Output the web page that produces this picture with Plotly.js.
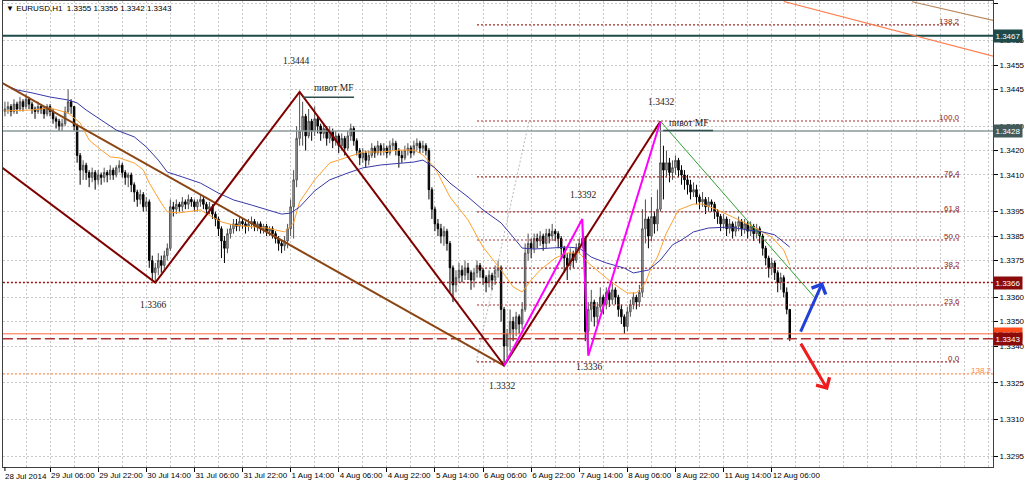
<!DOCTYPE html>
<html><head><meta charset="utf-8">
<script src="https://cdn.plot.ly/plotly-3.0.1.min.js"></script>
<style>html,body{margin:0;padding:0;background:#fff;}#chart{width:1024px;height:482px;}</style>
</head><body><div id="chart"></div>
<script>
// ---------- DATA ----------
const symbolTitle = "▼ EURUSD,H1  1.3355 1.3355 1.3342 1.3343";
const firstOpen = 1.3436;
const closePrices = [
1.3437,1.3438,1.3436,1.3439,1.3437,1.3440,1.3438,1.3441,1.3439,1.3437,
1.3436,1.3438,1.3437,1.3435,1.3438,1.3436,1.3433,1.3432,1.3430,1.3431,
1.3436,1.3440,1.3438,1.3430,1.3418,1.3412,1.3414,1.3411,1.3409,1.3411,
1.3408,1.3410,1.3409,1.3411,1.3410,1.3412,1.3410,1.3413,1.3414,1.3411,
1.3409,1.3410,1.3406,1.3403,1.3400,1.3402,1.3397,1.3399,1.3375,1.3370,
1.3372,1.3375,1.3373,1.3377,1.3380,1.3397,1.3396,1.3398,1.3397,1.3399,
1.3398,1.3400,1.3399,1.3397,1.3399,1.3400,1.3398,1.3396,1.3397,1.3394,
1.3392,1.3388,1.3383,1.3380,1.3386,1.3388,1.3390,1.3389,1.3391,1.3390,
1.3389,1.3390,1.3391,1.3389,1.3390,1.3388,1.3389,1.3387,1.3388,1.3386,
1.3384,1.3382,1.3381,1.3383,1.3388,1.3397,1.3408,1.3425,1.3428,1.3434,
1.3426,1.3432,1.3428,1.3433,1.3430,1.3427,1.3429,1.3425,1.3428,1.3424,
1.3426,1.3422,1.3425,1.3421,1.3426,1.3429,1.3424,1.3420,1.3417,1.3419,
1.3416,1.3418,1.3421,1.3419,1.3422,1.3420,1.3421,1.3419,1.3422,1.3423,
1.3420,1.3418,1.3417,1.3420,1.3421,1.3419,1.3422,1.3423,1.3421,1.3422,
1.3420,1.3404,1.3396,1.3390,1.3388,1.3385,1.3387,1.3382,1.3372,1.3365,
1.3368,1.3371,1.3369,1.3372,1.3370,1.3367,1.3370,1.3373,1.3371,1.3368,
1.3366,1.3369,1.3367,1.3371,1.3372,1.3355,1.3340,1.3345,1.3350,1.3347,
1.3352,1.3349,1.3355,1.3378,1.3382,1.3380,1.3384,1.3383,1.3385,1.3382,
1.3386,1.3385,1.3387,1.3386,1.3384,1.3380,1.3376,1.3373,1.3378,1.3375,
1.3380,1.3382,1.3384,1.3346,1.3355,1.3358,1.3352,1.3356,1.3360,1.3357,
1.3362,1.3359,1.3363,1.3360,1.3355,1.3352,1.3348,1.3354,1.3357,1.3360,
1.3358,1.3362,1.3388,1.3392,1.3385,1.3393,1.3390,1.3396,1.3415,1.3412,
1.3415,1.3411,1.3413,1.3416,1.3412,1.3410,1.3408,1.3406,1.3403,1.3404,
1.3401,1.3399,1.3400,1.3397,1.3399,1.3398,1.3395,1.3393,1.3390,1.3392,
1.3388,1.3390,1.3387,1.3389,1.3391,1.3388,1.3390,1.3387,1.3389,1.3386,
1.3388,1.3385,1.3380,1.3376,1.3372,1.3374,1.3370,1.3366,1.3368,1.3362,
1.3355,1.3343];
const highPrices = [
1.3440,1.3440,1.3439,1.3441,1.3440,1.3442,1.3441,1.3443,1.3442,1.3440,
1.3438,1.3440,1.3439,1.3438,1.3439,1.3439,1.3437,1.3434,1.3433,1.3433,
1.3438,1.3445,1.3441,1.3438,1.3431,1.3419,1.3416,1.3415,1.3412,1.3413,
1.3412,1.3412,1.3411,1.3413,1.3412,1.3414,1.3413,1.3414,1.3416,1.3415,
1.3412,1.3411,1.3411,1.3407,1.3404,1.3404,1.3403,1.3401,1.3400,1.3377,
1.3374,1.3378,1.3377,1.3379,1.3382,1.3400,1.3399,1.3400,1.3399,1.3401,
1.3400,1.3402,1.3401,1.3400,1.3400,1.3402,1.3401,1.3399,1.3399,1.3398,
1.3395,1.3393,1.3389,1.3385,1.3388,1.3390,1.3392,1.3392,1.3393,1.3392,
1.3391,1.3392,1.3393,1.3392,1.3391,1.3391,1.3390,1.3390,1.3389,1.3389,
1.3387,1.3385,1.3383,1.3385,1.3390,1.3400,1.3412,1.3430,1.3444,1.3440,
1.3435,1.3437,1.3433,1.3438,1.3434,1.3431,1.3431,1.3430,1.3430,1.3429,
1.3428,1.3427,1.3427,1.3426,1.3428,1.3431,1.3430,1.3425,1.3421,1.3421,
1.3420,1.3420,1.3423,1.3422,1.3424,1.3423,1.3423,1.3422,1.3424,1.3425,
1.3424,1.3421,1.3420,1.3422,1.3423,1.3422,1.3424,1.3425,1.3424,1.3424,
1.3423,1.3421,1.3405,1.3397,1.3392,1.3390,1.3389,1.3388,1.3383,1.3373,
1.3371,1.3374,1.3373,1.3375,1.3374,1.3371,1.3372,1.3375,1.3374,1.3372,
1.3369,1.3371,1.3370,1.3373,1.3375,1.3373,1.3356,1.3347,1.3355,1.3352,
1.3354,1.3353,1.3358,1.3382,1.3386,1.3384,1.3386,1.3386,1.3387,1.3386,
1.3388,1.3388,1.3390,1.3388,1.3387,1.3385,1.3381,1.3378,1.3380,1.3379,
1.3382,1.3384,1.3392,1.3385,1.3358,1.3363,1.3359,1.3358,1.3364,1.3361,
1.3364,1.3363,1.3366,1.3364,1.3361,1.3357,1.3353,1.3356,1.3359,1.3362,
1.3361,1.3365,1.3396,1.3400,1.3393,1.3401,1.3395,1.3404,1.3432,1.3422,
1.3420,1.3417,1.3416,1.3418,1.3417,1.3414,1.3412,1.3410,1.3408,1.3407,
1.3406,1.3402,1.3403,1.3401,1.3401,1.3400,1.3399,1.3396,1.3394,1.3394,
1.3393,1.3392,1.3391,1.3391,1.3393,1.3392,1.3392,1.3391,1.3391,1.3390,
1.3390,1.3389,1.3386,1.3381,1.3377,1.3376,1.3375,1.3371,1.3370,1.3369,
1.3364,1.3355];
const lowPrices = [
1.3434,1.3435,1.3434,1.3435,1.3435,1.3436,1.3436,1.3437,1.3437,1.3435,
1.3433,1.3435,1.3435,1.3433,1.3434,1.3434,1.3431,1.3429,1.3428,1.3428,
1.3430,1.3435,1.3435,1.3428,1.3415,1.3406,1.3408,1.3408,1.3405,1.3407,
1.3404,1.3406,1.3406,1.3407,1.3407,1.3408,1.3408,1.3409,1.3411,1.3409,
1.3406,1.3405,1.3403,1.3399,1.3397,1.3398,1.3395,1.3395,1.3372,1.3367,
1.3366,1.3369,1.3370,1.3371,1.3375,1.3379,1.3393,1.3394,1.3395,1.3395,
1.3396,1.3396,1.3397,1.3395,1.3395,1.3397,1.3396,1.3394,1.3394,1.3392,
1.3389,1.3385,1.3376,1.3374,1.3378,1.3384,1.3386,1.3387,1.3387,1.3388,
1.3386,1.3387,1.3388,1.3387,1.3387,1.3386,1.3386,1.3385,1.3385,1.3384,
1.3382,1.3379,1.3378,1.3379,1.3380,1.3385,1.3384,1.3405,1.3422,1.3422,
1.3420,1.3425,1.3424,1.3426,1.3427,1.3424,1.3425,1.3422,1.3423,1.3421,
1.3422,1.3419,1.3420,1.3418,1.3420,1.3424,1.3422,1.3418,1.3414,1.3415,
1.3413,1.3414,1.3417,1.3417,1.3418,1.3418,1.3418,1.3417,1.3418,1.3420,
1.3418,1.3413,1.3415,1.3416,1.3418,1.3417,1.3418,1.3420,1.3419,1.3419,
1.3418,1.3400,1.3392,1.3387,1.3385,1.3382,1.3381,1.3379,1.3362,1.3358,
1.3362,1.3366,1.3366,1.3367,1.3367,1.3363,1.3364,1.3368,1.3368,1.3365,
1.3362,1.3364,1.3363,1.3365,1.3368,1.3350,1.3332,1.3335,1.3338,1.3342,
1.3344,1.3345,1.3347,1.3354,1.3375,1.3376,1.3378,1.3380,1.3381,1.3379,
1.3380,1.3382,1.3383,1.3383,1.3380,1.3376,1.3370,1.3367,1.3371,1.3372,
1.3374,1.3378,1.3380,1.3342,1.3337,1.3350,1.3348,1.3349,1.3354,1.3353,
1.3355,1.3356,1.3357,1.3357,1.3352,1.3349,1.3345,1.3346,1.3352,1.3355,
1.3355,1.3356,1.3360,1.3382,1.3380,1.3383,1.3386,1.3387,1.3395,1.3400,
1.3409,1.3407,1.3408,1.3410,1.3409,1.3406,1.3404,1.3402,1.3400,1.3401,
1.3398,1.3396,1.3397,1.3394,1.3395,1.3395,1.3392,1.3390,1.3387,1.3388,
1.3385,1.3386,1.3384,1.3385,1.3387,1.3385,1.3386,1.3384,1.3385,1.3383,
1.3384,1.3382,1.3377,1.3373,1.3368,1.3369,1.3367,1.3362,1.3363,1.3360,
1.3353,1.3342];

const tickBars = [0,15,31,47,63,79,95,111,127,143,159,175,191,207,223,239,255];
const tickLabels = ["28 Jul 2014","29 Jul 06:00","29 Jul 22:00","30 Jul 14:00","31 Jul 06:00","31 Jul 22:00","1 Aug 14:00","4 Aug 06:00","4 Aug 22:00","5 Aug 14:00","6 Aug 06:00","6 Aug 22:00","7 Aug 14:00","8 Aug 06:00","8 Aug 22:00","11 Aug 14:00","12 Aug 06:00"];
const yTicks = [1.3480,1.3465,1.3455,1.3445,1.3430,1.3420,1.3410,1.3395,1.3385,1.3375,1.3360,1.3350,1.3340,1.3325,1.3310,1.3295];

// moving averages
const maFastBars = [0,9,15,21,25,28,32,35,38,43,46,48,52,54,58,65,69,72,76,82,87,93,96,98,103,108,114,119,125,131,136,139,143,148,154,159,165,169,172,175,178,183,187,191,194,198,202,207,210,213,215,217,220,224,229,232,237,242,249,255,259,261];
const maFastVals = [1.34362,1.34366,1.34374,1.34354,1.34313,1.34243,1.34202,1.34174,1.34170,1.34149,1.34121,1.34067,1.33985,1.33949,1.33945,1.33957,1.33928,1.33908,1.33895,1.33887,1.33883,1.33867,1.33904,1.33990,1.34080,1.34149,1.34174,1.34194,1.34194,1.34202,1.34202,1.34182,1.34129,1.34010,1.33916,1.33805,1.33711,1.33642,1.33621,1.33670,1.33711,1.33760,1.33781,1.33781,1.33740,1.33699,1.33658,1.33617,1.33617,1.33658,1.33724,1.33764,1.33863,1.33957,1.33981,1.33981,1.33957,1.33928,1.33887,1.33846,1.33793,1.33732];
const maSlowBars = [0,4,9,15,21,24,27,32,37,43,47,51,54,59,65,71,76,82,87,92,95,98,103,108,114,119,125,131,136,139,143,148,154,159,165,169,172,176,182,187,191,195,200,206,209,214,218,222,225,229,234,241,247,252,256,261];
const maSlowVals = [1.34468,1.34448,1.34436,1.34419,1.34407,1.34395,1.34366,1.34325,1.34284,1.34256,1.34215,1.34161,1.34112,1.34092,1.34067,1.34026,1.33998,1.33977,1.33957,1.33940,1.33944,1.33969,1.34035,1.34080,1.34108,1.34129,1.34141,1.34149,1.34153,1.34161,1.34129,1.34067,1.34010,1.33957,1.33904,1.33846,1.33801,1.33797,1.33801,1.33805,1.33801,1.33764,1.33740,1.33719,1.33699,1.33711,1.33752,1.33814,1.33834,1.33867,1.33883,1.33887,1.33875,1.33867,1.33855,1.33805];

// drawn objects
const zigzagBars = [-2,50,98,166,218];
const zigzagPrices = [1.3414,1.3366,1.3444,1.3332,1.3432];
const waveBars = [166,192,194,218];
const wavePrices = [1.3332,1.3392,1.3336,1.3432];
const trendBars = [-2,166];
const trendPrices = [1.34484,1.3332];
const greenBars = [218,269.4];
const greenPrices = [1.3432,1.33597];
const channelABars = [259,335];
const channelAPrices = [1.3481,1.34566];
const channelBBars = [301.7,335];
const channelBPrices = [1.34809,1.34714];
const pivotLineBars = [[99.1,116.1],[218.9,235.5]];
const pivotLinePrices = [1.34418,1.34282];

const levelPrices = [1.3467,1.3428,1.3366,1.3345,1.3343];
const levelLabels = ["1.3467","1.3428","1.3366","1.3345","1.3343"];
const fibLabels = ["138.2","100.0","76.4","61.8","50.0","38.2","23.6","0.0"];
const fibPrices = [1.34714,1.34321,1.34092,1.33949,1.33834,1.33719,1.33568,1.33335];
const fibBars = [157,318];
const fibDiagBars = [156.7,174.3];
const fibDiagPrices = [1.33335,1.34321];
const fib2Label = "138.2";
const fib2Price = 1.33286;

const priceNotes = ["1.3444","пивот MF","1.3366","1.3332","1.3392","1.3336","1.3432","пивот MF"];
const priceNoteBars = [96.8,109.1,49.3,165.3,192.3,194.3,218.2,227.2];
const priceNotePrices = [1.34567,1.34456,1.33568,1.33236,1.34018,1.33314,1.34399,1.34313];

const arrowUp = {fromBar:264.4, fromPrice:1.33453, toBar:272, toPrice:1.33662};
const arrowDown = {fromBar:264.4, fromPrice:1.33416, toBar:273.7, toPrice:1.3322};

// ---------- BUILD ----------
const bars = closePrices.map((_, i) => i);
const openPrices = [firstOpen].concat(closePrices.slice(0, -1));
const gridBars = [];
for (let g = 7; g <= 330; g += 8) gridBars.push(g);

const FULL = [-10, 340];
const traces = [];
function line(x, y, color, width, dash) {
  traces.push({type:'scatter', mode:'lines', x:x, y:y, hoverinfo:'skip',
    line:{color:color, width:width, dash:dash || 'solid'}});
}
// horizontal levels
const levelStyles = [
  {c:'#1f4a4a', w:2, d:'solid'},
  {c:'#8a9a9a', w:1.5, d:'solid'},
  {c:'#a01010', w:1.3, d:'2px,2px'},
  {c:'#ff6a3a', w:1, d:'solid'},
  {c:'#b03030', w:1.4, d:'10px,4px'}
];
levelPrices.forEach((p, k) => line(FULL, [p, p], levelStyles[k].c, levelStyles[k].w, levelStyles[k].d));
// fib levels
fibPrices.forEach(p => line(fibBars, [p, p], '#a52a2a', 1.2, '2px,2px'));
line(FULL, [fib2Price, fib2Price], '#ff8c50', 1.2, '2px,2px');
line(fibDiagBars, fibDiagPrices, '#b8b8b8', 1, '2px,2px');

// candles
traces.push({type:'candlestick', x:bars, open:openPrices, high:highPrices, low:lowPrices, close:closePrices,
  increasing:{line:{color:'#505050', width:1}, fillcolor:'#b4b4b4'},
  decreasing:{line:{color:'#000000', width:1}, fillcolor:'#000000'},
  whiskerwidth:0, hoverinfo:'skip'});

// moving averages
line(maFastBars, maFastVals, '#ffa030', 1);
line(maSlowBars, maSlowVals, '#3838a8', 1);

// objects
line(trendBars, trendPrices, '#8b4513', 2);
line(zigzagBars, zigzagPrices, '#800000', 2);
line(waveBars, wavePrices, '#ff00ff', 2);
line(greenBars, greenPrices, '#2e9e2e', 1);
line(channelABars, channelAPrices, '#ff7f50', 1.2);
line(channelBBars, channelBPrices, '#b8865a', 1.2);
pivotLineBars.forEach((b, k) => line(b, [pivotLinePrices[k], pivotLinePrices[k]], '#2f4f4f', 1.5));

const annotations = [];
const axisFont = {family:'Liberation Sans, DejaVu Sans, sans-serif', size:8, color:'#000'};
annotations.push({xref:'paper', yref:'paper', x:0, y:1, xanchor:'left', yanchor:'top', xshift:1, yshift:-1,
  text:symbolTitle, showarrow:false, font:axisFont});
// first x label at bar 0
annotations.push({xref:'x', yref:'paper', x:tickBars[0], y:0, xanchor:'left', yanchor:'top', xshift:-2, yshift:-3,
  text:tickLabels[0], showarrow:false, font:axisFont});
// fib labels
fibPrices.forEach((p, k) => annotations.push({xref:'x', yref:'y', x:fibBars[1], y:p, xanchor:'right', yanchor:'bottom',
  yshift:-2, text:fibLabels[k], showarrow:false, borderpad:0,
  font:{family:'Liberation Sans, sans-serif', size:8, color:'#8b1c1c'}}));
annotations.push({xref:'paper', yref:'y', x:1, y:fib2Price, xanchor:'right', yanchor:'bottom', yshift:-2,
  text:fib2Label, showarrow:false, borderpad:0, font:{family:'Liberation Sans, sans-serif', size:8, color:'#ff7f50'}});
// notes
priceNotes.forEach((t, k) => annotations.push({xref:'x', yref:'y', x:priceNoteBars[k], y:priceNotePrices[k],
  xanchor:'center', yanchor:'middle', text:t, showarrow:false,
  font:{family:'Liberation Serif, Times New Roman, serif', size:9.5, color:'#1a1a1a'}}));
// arrows
[[arrowUp, '#2040d8'], [arrowDown, '#ee1c1c']].forEach(([a, c]) => annotations.push({
  xref:'x', yref:'y', axref:'x', ayref:'y', x:a.toBar, y:a.toPrice, ax:a.fromBar, ay:a.fromPrice,
  text:'', showarrow:true, arrowhead:4, arrowsize:1, arrowwidth:3, arrowcolor:c, standoff:0, startstandoff:0}));
// right axis boxes
const boxColors = ['#1f4a4a','#435a5a','#8b0a0a','#ff4a1a','#8b0a0a'];
levelPrices.forEach((p, k) => annotations.push({xref:'paper', yref:'y', x:1, y:p, xanchor:'left', yanchor:'middle',
  xshift:0, text:levelLabels[k], showarrow:false, bgcolor:boxColors[k], borderpad:1.5,
  font:{family:'Liberation Sans, sans-serif', size:8, color:'#ffffff'}}));

const shapes = [{type:'line', xref:'x', yref:'paper', x0:tickBars[0], x1:tickBars[0], y0:0, y1:-4/466,
  line:{color:'#000', width:1}}];

const grid = {gridcolor:'#c8c8c8', griddash:'2px,2px', gridwidth:1};
const layout = {
  width:1024, height:482, margin:{l:3, r:31, t:1, b:15, pad:0},
  paper_bgcolor:'#ffffff', plot_bgcolor:'#ffffff', showlegend:false,
  font:axisFont,
  xaxis:Object.assign({range:[-0.65, 328.6], tickmode:'array', tickvals:tickBars.slice(1), ticktext:tickLabels.slice(1),
    ticks:'outside', ticklen:4, tickcolor:'#000', tickangle:0, ticklabelposition:'outside right', showgrid:true,
    minor:Object.assign({tickmode:'array', tickvals:gridBars, showgrid:true, ticks:''}, grid),
    showline:true, linecolor:'#404040', linewidth:1, mirror:true, zeroline:false, rangeslider:{visible:false},
    fixedrange:true, tickfont:axisFont}, grid),
  yaxis:Object.assign({side:'right', range:[1.32905, 1.34812], tickmode:'array', tickvals:yTicks,
    ticktext:yTicks.map(v => v.toFixed(4)), ticks:'outside', ticklen:4, tickcolor:'#000', showgrid:true,
    showline:true, linecolor:'#404040', linewidth:1, mirror:true, zeroline:false, fixedrange:true, tickfont:axisFont}, grid),
  annotations:annotations, shapes:shapes
};
Plotly.newPlot('chart', traces, layout, {displayModeBar:false, staticPlot:true});
</script></body></html>
